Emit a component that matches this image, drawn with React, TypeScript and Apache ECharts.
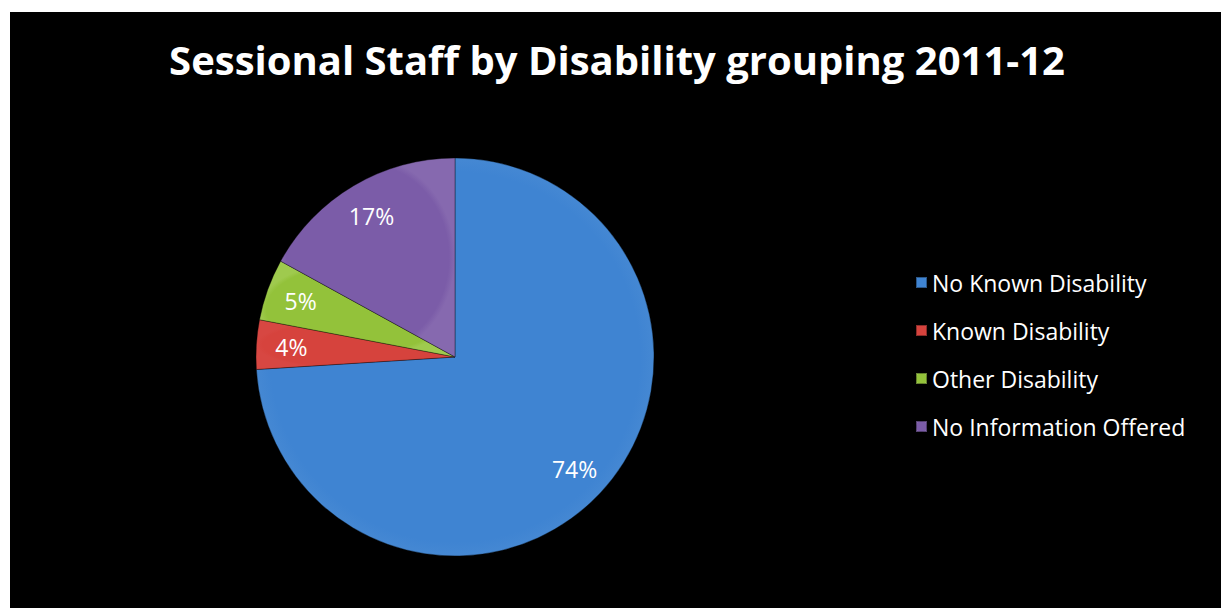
import React, { useEffect, useRef } from "react";
import * as echarts from "echarts";

const categories = ["No Known Disability", "Known Disability", "Other Disability", "No Information Offered"];
const values = [74, 4, 5, 17];
const colors = ["#3f84d2", "#d6433d", "#93c23a", "#7b5ca8"];
const titleText = "Sessional Staff by Disability grouping 2011-12";

export default function App() {
  const ref = useRef<HTMLDivElement>(null);
  useEffect(() => {
    document.body.style.margin = "0";
    const chart = echarts.init(ref.current!, null, { renderer: "svg" });
    const data = categories.map((name, i) => ({
      name,
      value: values[i],
      itemStyle: {
        color: {
          type: "radial",
          x: 0.5,
          y: 0.5,
          r: 0.5,
          colorStops: [
            { offset: 0, color: colors[i] },
            { offset: 0.93, color: colors[i] },
            { offset: 1, color: echarts.color.modifyHSL(colors[i], null, null, 0.55) as string },
          ],
        },
      },
    }));
    chart.setOption({
      animation: false,
      backgroundColor: "#ffffff",
      graphic: [
        { type: "rect", z: -10, shape: { x: 10, y: 12, width: 1211, height: 596 }, style: { fill: "#000000" } },
      ],
      title: {
        text: titleText,
        left: 612,
        top: 34,
        textAlign: "center",
        textStyle: { color: "#ffffff", fontFamily: "Open Sans", fontWeight: "bold", fontSize: 40 },
      },
      legend: {
        orient: "vertical",
        left: 910,
        top: 266,
        itemWidth: 11,
        itemHeight: 11,
        itemGap: 25,
        icon: "rect",
        data: categories,
        textStyle: { color: "#ffffff", fontFamily: "Open Sans", fontSize: 23, padding: [0, 0, 0, 0] },
      },
      series: [
        {
          type: "pie",
          center: [455, 357],
          radius: [0, 199],
          startAngle: 90,
          clockwise: true,
          data,
          label: { show: false },
          labelLine: { show: false },
          itemStyle: { borderColor: "rgba(0,0,0,0.35)", borderWidth: 1 },
          silent: true,
        },
        {
          type: "pie",
          center: [455, 357],
          radius: [0, 322],
          startAngle: 90,
          clockwise: true,
          silent: true,
          data: categories.map((name, i) => ({ name, value: values[i] })),
          itemStyle: { color: "transparent" },
          label: {
            show: true,
            position: "inside",
            formatter: (p: any) => Math.round(p.percent) + "%",
            color: "#ffffff",
            fontFamily: "Open Sans",
            fontSize: 23,
          },
          labelLine: { show: false },
        },
      ],
    });
    return () => chart.dispose();
  }, []);
  return <div ref={ref} style={{ position: "absolute", left: 0, top: 0, width: 1221, height: 608 }} />;
}
